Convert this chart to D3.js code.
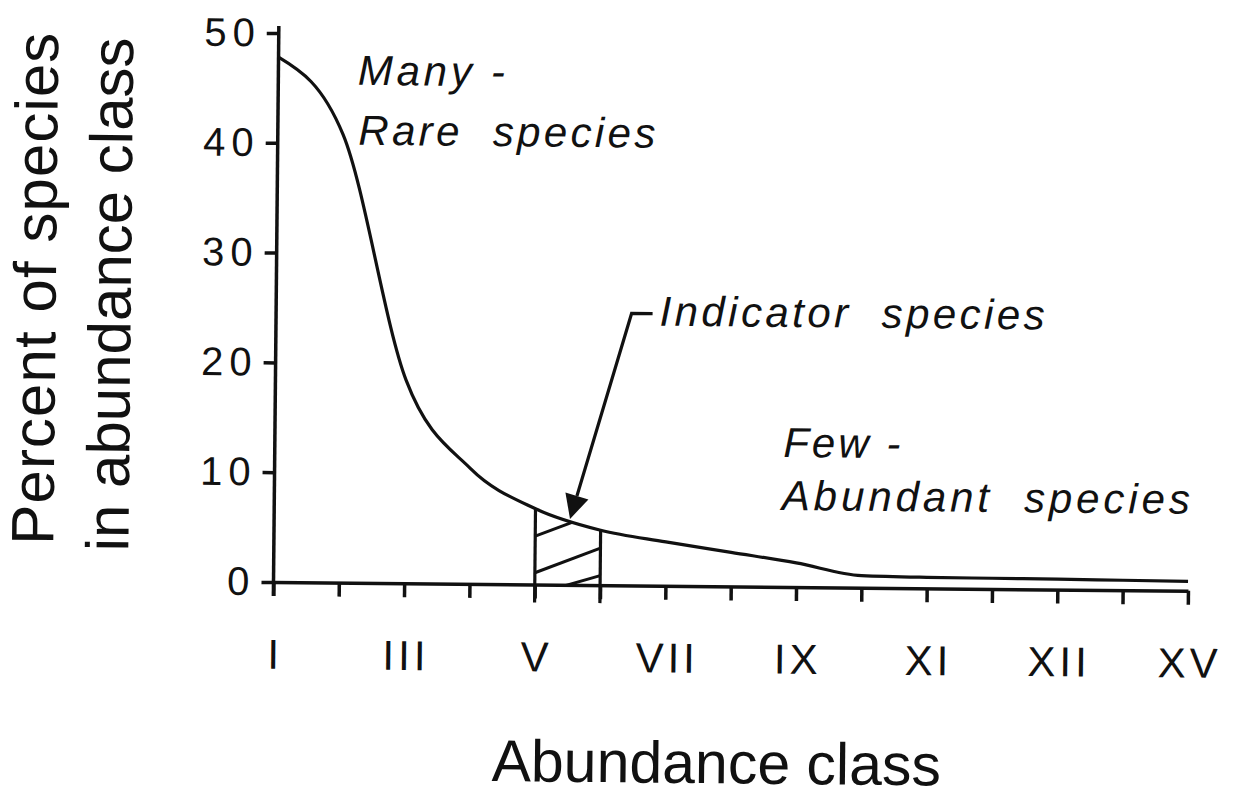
<!DOCTYPE html>
<html lang="en">
<head>
<meta charset="UTF-8"/>
<title>Percent of species in abundance class</title>
<script src="https://d3js.org/d3.v7.min.js"></script>
<style>
  body { margin: 0; background: #fff; }
  svg text { font-family: "Liberation Sans", Arial, Helvetica, sans-serif; fill: #111; }
</style>
</head>
<body>
<script>
var w = 1236;
var h = 799;

// abundance classes, I to XV
var classes = ["I","II","III","IV","V","VI","VII","VIII","IX","X","XI","XII","XIII","XIV","XV"];
// percent of species in each class
var percent = [47.8, 40.8, 18.5, 10.5, 6.9, 5.0, 4.0, 3.1, 2.2, 1.1, 1.0, 0.97, 0.94, 0.9, 0.86];
// classes labelled under the axis, and the label printed for each
var labelledClasses = ["I","III","V","VII","IX","XI","XIII","XV"];
var labelTexts = ["I","III","V","VII","IX","XI","XII","XV"];
var yTicks = [0, 10, 20, 30, 40, 50];
// indicator band between these classes, arrow points at the curve inside it
var indicatorBand = ["V", "VI"];
var indicatorAt = 0.53;

var xScale = d3.scalePoint()
               .domain(classes)
               .range([273.5, 1188]);

var yScale = d3.scaleLinear()
               .domain([0, 50])
               .range([582, 33]);

var svg = d3.select("body")
            .append("svg")
            .attr("width", w)
            .attr("height", h);

// the scanned figure sits slightly rotated
var g = svg.append("g")
           .attr("transform", "rotate(0.55, 273, 582)");

var line = d3.line()
             .x(function(d, i) { return xScale(classes[i]); })
             .y(function(d) { return yScale(d); })
             .curve(d3.curveMonotoneX);

var area = d3.area()
             .x(function(d, i) { return xScale(classes[i]); })
             .y0(yScale(0))
             .y1(function(d) { return yScale(d); })
             .curve(d3.curveMonotoneX);

// clip for the hatching: under the curve, above the axis
g.append("clipPath")
 .attr("id", "under")
 .append("path")
 .attr("d", area(percent));

var xa = xScale(indicatorBand[0]);
var xb = xScale(indicatorBand[1]);
var ia = classes.indexOf(indicatorBand[0]);
var ib = classes.indexOf(indicatorBand[1]);

// hatch strokes across the band (left end, right end, in percent units)
var hatch = [[4.4, 6.7], [1.07, 3.37], [-0.9, 0.87]];
g.append("g")
 .attr("clip-path", "url(#under)")
 .selectAll("line")
 .data(hatch)
 .enter()
 .append("line")
 .attr("x1", xa)
 .attr("x2", xb)
 .attr("y1", function(d) { return yScale(d[0]); })
 .attr("y2", function(d) { return yScale(d[1]); })
 .attr("stroke", "#111")
 .attr("stroke-width", 3);

// band edges, running down past the axis
g.selectAll(".band")
 .data([ia, ib])
 .enter()
 .append("line")
 .attr("class", "band")
 .attr("x1", function(d) { return xScale(classes[d]); })
 .attr("x2", function(d) { return xScale(classes[d]); })
 .attr("y1", yScale(0) + 18)
 .attr("y2", function(d) { return yScale(percent[d]); })
 .attr("stroke", "#111")
 .attr("stroke-width", 3.2);

// x axis
var xAxis = d3.axisBottom(xScale)
              .tickSizeInner(14)
              .tickSizeOuter(0)
              .tickPadding(43)
              .tickFormat(function(d) {
                var k = labelledClasses.indexOf(d);
                return k < 0 ? "" : labelTexts[k];
              });

var gx = g.append("g")
          .attr("transform", "translate(0," + yScale(0) + ")")
          .call(xAxis);
gx.select(".domain").attr("stroke", "#111").attr("stroke-width", 3.5);
gx.selectAll(".tick line").attr("stroke", "#111").attr("stroke-width", 3.5);
gx.selectAll(".tick text")
  .attr("font-size", 42)
  .attr("font-family", "Liberation Sans, Arial, sans-serif")
  .attr("letter-spacing", 4)
  .attr("dx", 2)
  .attr("fill", "#111");

// y axis
var yAxis = d3.axisLeft(yScale)
              .tickValues(yTicks)
              .tickSize(12)
              .tickPadding(6);

var gy = g.append("g")
          .attr("transform", "translate(" + xScale("I") + ",0)")
          .call(yAxis);
gy.select(".domain").remove();
gy.selectAll(".tick line").attr("stroke", "#111").attr("stroke-width", 3.5);
gy.selectAll(".tick text")
  .attr("font-size", 40)
  .attr("font-family", "Liberation Sans, Arial, sans-serif")
  .attr("letter-spacing", 6)
  .attr("fill", "#111");

g.append("line")
 .attr("x1", xScale("I"))
 .attr("x2", xScale("I"))
 .attr("y1", yScale(50) - 7)
 .attr("y2", yScale(0) + 14)
 .attr("stroke", "#111")
 .attr("stroke-width", 3.5);

// the curve
g.append("path")
 .attr("d", line(percent))
 .attr("fill", "none")
 .attr("stroke", "#111")
 .attr("stroke-width", 3.2);

// indicator arrow
var tip = [xa + indicatorAt * (xb - xa), yScale(6.0)];
var tail = [629, 310];
var dx = tip[0] - tail[0], dy = tip[1] - tail[1];
var len = Math.sqrt(dx * dx + dy * dy);
var ux = dx / len, uy = dy / len;
var headLen = 24, headHalf = 12;
var base = [tip[0] - ux * headLen, tip[1] - uy * headLen];

g.append("path")
 .attr("d", "M" + (tail[0] + 21) + "," + tail[1] + "H" + tail[0] + "L" + base[0] + "," + base[1])
 .attr("fill", "none")
 .attr("stroke", "#111")
 .attr("stroke-width", 3.2);

g.append("path")
 .attr("d", "M" + tip[0] + "," + tip[1] +
            "L" + (base[0] - uy * headHalf) + "," + (base[1] + ux * headHalf) +
            "L" + (base[0] + uy * headHalf) + "," + (base[1] - ux * headHalf) + "Z")
 .attr("fill", "#111");

// annotations
var notes = [
  { t: "Many -", x: 353, y: 84, len: 147 },
  { t: "Rare  species", x: 354, y: 144, len: 297 },
  { t: "Indicator  species", x: 657, y: 322, len: 385 },
  { t: "Few -", x: 782, y: 452, len: 117 },
  { t: "Abundant  species", x: 781, y: 505, len: 408 }
];

g.selectAll(".note")
 .data(notes)
 .enter()
 .append("text")
 .attr("class", "note")
 .attr("x", function(d) { return d.x; })
 .attr("y", function(d) { return d.y; })
 .attr("font-size", 42)
 .attr("font-style", "italic")
 .attr("textLength", function(d) { return d.len; })
 .attr("lengthAdjust", "spacing")
 .style("white-space", "pre")
 .text(function(d) { return d.t; });

// axis titles
g.append("text")
 .attr("x", 718)
 .attr("y", 779)
 .attr("text-anchor", "middle")
 .attr("font-size", 59)
 .text("Abundance class");

g.append("text")
 .attr("transform", "translate(53,291) rotate(-90)")
 .attr("text-anchor", "middle")
 .attr("font-size", 60)
 .attr("textLength", 512)
 .attr("lengthAdjust", "spacing")
 .text("Percent of species");

g.append("text")
 .attr("transform", "translate(128,296) rotate(-90)")
 .attr("text-anchor", "middle")
 .attr("font-size", 60)
 .attr("textLength", 514)
 .attr("lengthAdjust", "spacing")
 .text("in abundance class");
</script>
</body>
</html>
